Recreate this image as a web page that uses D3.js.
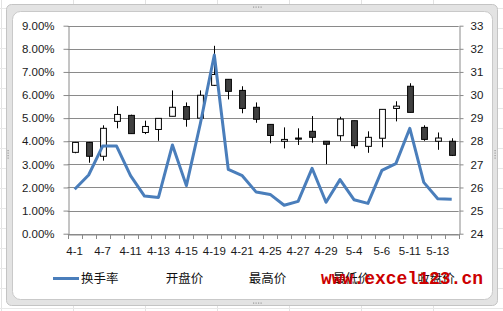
<!DOCTYPE html>
<html>
<head>
<meta charset="utf-8">
<script src="https://cdn.jsdelivr.net/npm/d3@7/dist/d3.min.js"></script>
<style>
  html, body { margin: 0; padding: 0; background: #ffffff; }
  svg { display: block; }
</style>
</head>
<body>
<svg id="chart" width="503" height="311"></svg>
<script>
// ---------- DATA ----------
const categories = ["4-1","4-2","4-7","4-8","4-11","4-12","4-13","4-14","4-15","4-16","4-19","4-20","4-21","4-22","4-25","4-26","4-27","4-28","4-29","4-30","5-4","5-5","5-6","5-7","5-11","5-12","5-13","5-14"];
const turnover = [1.92,2.54,3.79,3.79,2.51,1.63,1.57,3.84,2.08,4.77,7.73,2.78,2.51,1.80,1.70,1.23,1.40,2.83,1.36,2.34,1.47,1.31,2.74,3.03,4.56,2.22,1.51,1.49];
const openPrice  = [27.52,27.95,27.35,28.86,29.12,28.38,28.51,29.08,29.50,29.00,30.42,30.68,30.20,29.47,28.73,28.00,28.14,28.43,28.00,28.24,28.89,27.78,28.13,29.42,30.38,28.60,28.00,28.00];
const highPrice  = [27.97,27.97,28.69,29.52,29.15,28.89,28.99,30.20,29.68,30.20,32.13,30.68,30.38,29.68,28.73,28.60,28.56,29.09,28.00,29.06,28.89,28.43,29.38,29.73,30.51,28.69,28.38,28.13];
const lowPrice   = [27.48,27.07,27.16,28.56,28.33,28.31,28.02,29.08,28.63,29.00,30.39,29.81,29.21,28.80,27.91,27.69,27.84,27.94,27.01,28.02,27.69,27.50,27.74,28.86,29.25,28.02,27.63,27.36];
const closePrice = [27.95,27.35,28.56,29.16,28.33,28.64,28.99,29.47,28.95,29.99,30.89,30.16,29.42,28.95,28.25,28.08,28.09,28.17,27.87,28.96,27.81,28.17,29.38,29.52,29.25,28.08,28.14,27.39];
const pctTicks = [0,0.01,0.02,0.03,0.04,0.05,0.06,0.07,0.08,0.09];
const priceTicks = [24,25,26,27,28,29,30,31,32,33];
const legendNames = ["换手率","开盘价","最高价","最低价","收盘价"];
const watermark = "www.excel123.cn";

// ---------- LAYOUT ----------
const W = 503, H = 311;
const L = 67.7, R = 458.7, T = 25.7, B = 233.7;
const svg = d3.select("#chart");

// spreadsheet background grid
const bg = svg.append("g");
d3.range(1, W, 72).forEach(xx => bg.append("line").attr("x1", xx + 0.5).attr("x2", xx + 0.5).attr("y1", 0).attr("y2", H).attr("stroke", "#e2e2e2"));
d3.range(8, H, 20).forEach(yy => bg.append("line").attr("x1", 0).attr("x2", W).attr("y1", yy + 0.5).attr("y2", yy + 0.5).attr("stroke", "#e8e8e8"));

// chart frame
svg.append("rect").attr("x", 6.5).attr("y", 4.5).attr("width", 491).attr("height", 301).attr("rx", 5)
  .attr("fill", "#e3e3e3").attr("stroke", "#c4c4c4");
svg.append("rect").attr("x", 12.5).attr("y", 11.5).attr("width", 480).attr("height", 288).attr("rx", 8)
  .attr("fill", "#ffffff").attr("stroke", "#c9c9c9");
// handles
[[253, 7], [253, 303]].forEach(([hx, hy]) => {
  for (let k = 0; k < 4; k++) svg.append("rect").attr("x", hx + k * 2.5).attr("y", hy - 0.5).attr("width", 1.2).attr("height", 1.2).attr("fill", "#9a9a9a");
});
[[8, 150], [495, 150]].forEach(([hx, hy]) => {
  for (let k = 0; k < 4; k++) svg.append("rect").attr("x", hx - 0.5).attr("y", hy + k * 2.5).attr("width", 1.2).attr("height", 1.2).attr("fill", "#9a9a9a");
});

// ---------- SCALES ----------
const x = d3.scaleBand().domain(categories).range([L, R]).padding(0);
const yPct = d3.scaleLinear().domain([0, 0.09]).range([B, T]);
const yPrice = d3.scaleLinear().domain([24, 33]).range([B, T]);
const cx = d => x(d) + x.bandwidth() / 2;

// gridlines
svg.append("g").selectAll("line").data(pctTicks).join("line")
  .attr("x1", L).attr("x2", R)
  .attr("y1", d => Math.round(yPct(d)) + 0.5).attr("y2", d => Math.round(yPct(d)) + 0.5)
  .attr("stroke", "#8a8a8a").attr("stroke-width", 1);

// left axis
const axL = svg.append("g").attr("transform", `translate(${Math.round(L) + 0.5},0)`)
  .call(d3.axisLeft(yPct).tickValues(pctTicks).tickFormat(d3.format(".2%")).tickSize(5).tickSizeOuter(0).tickPadding(9));
// right axis
const axR = svg.append("g").attr("transform", `translate(${Math.round(R) + 0.5},0)`)
  .call(d3.axisRight(yPrice).tickValues(priceTicks).tickFormat(d3.format("d")).tickSize(4).tickSizeOuter(0).tickPadding(7));
// bottom axis (labels every other category)
const axB = svg.append("g").attr("transform", `translate(0,${Math.round(B) + 0.5})`)
  .call(d3.axisBottom(x).tickValues(categories.filter((d, i) => i % 2 === 0)).tickSize(0).tickSizeOuter(0).tickPadding(12));
// boundary tick marks
const bounds = categories.map(d => x(d)).concat([x.range()[1]]);
svg.append("g").selectAll("line").data(bounds).join("line")
  .attr("x1", d => Math.round(d) + 0.5).attr("x2", d => Math.round(d) + 0.5)
  .attr("y1", Math.round(B)).attr("y2", Math.round(B) + 5)
  .attr("stroke", "#8a8a8a");

[axL, axR, axB].forEach(g => {
  g.selectAll("path.domain").attr("stroke", "#8a8a8a");
  g.selectAll(".tick line").attr("stroke", "#8a8a8a");
  g.selectAll("text").attr("font-family", "'Liberation Sans', Arial, sans-serif").attr("font-size", "11.5px").attr("fill", "#1a1a1a");
});

// ---------- CANDLES ----------
const candles = categories.map((c, i) => ({ c, o: openPrice[i], h: highPrice[i], l: lowPrice[i], cl: closePrice[i] }));
const cw = 5.8;
const cg = svg.append("g");
cg.selectAll("line").data(candles).join("line")
  .attr("x1", d => Math.round(cx(d.c)) + 0.5).attr("x2", d => Math.round(cx(d.c)) + 0.5)
  .attr("y1", d => yPrice(d.h)).attr("y2", d => yPrice(d.l))
  .attr("stroke", "#000").attr("stroke-width", 1);
cg.selectAll("rect").data(candles).join("rect")
  .attr("x", d => Math.round(cx(d.c)) + 0.5 - cw / 2)
  .attr("y", d => yPrice(Math.max(d.o, d.cl)))
  .attr("width", cw)
  .attr("height", d => Math.max(1, Math.abs(yPrice(d.o) - yPrice(d.cl))))
  .attr("fill", d => d.cl >= d.o ? "#ffffff" : "#404040")
  .attr("stroke", "#000").attr("stroke-width", 1);

// ---------- TURNOVER LINE ----------
const line = d3.line().x((d, i) => cx(categories[i])).y(d => yPct(d / 100));
svg.append("path").datum(turnover).attr("d", line)
  .attr("fill", "none").attr("stroke", "#4a7ebb").attr("stroke-width", 3)
  .attr("stroke-linejoin", "round").attr("stroke-linecap", "butt");

// ---------- LEGEND ----------
const legX = [81, 165.7, 248.7, 332.7, 417.3];
const legY = 278.5;
svg.append("line").attr("x1", 53).attr("x2", 79).attr("y1", legY).attr("y2", legY)
  .attr("stroke", "#4a7ebb").attr("stroke-width", 3);
svg.append("g").selectAll("text").data(legendNames).join("text")
  .attr("x", (d, i) => legX[i]).attr("y", legY).attr("dy", "0.35em")
  .attr("font-family", "'Noto Sans CJK SC', sans-serif").attr("font-size", "12.5px").attr("fill", "#111")
  .text(d => d);

// watermark
svg.append("text").attr("x", 321).attr("y", 284)
  .attr("font-family", "'Liberation Mono', 'Courier New', monospace").attr("font-size", "18px")
  .attr("font-weight", "bold").attr("fill", "#cc0000").text(watermark);
</script>
</body>
</html>
